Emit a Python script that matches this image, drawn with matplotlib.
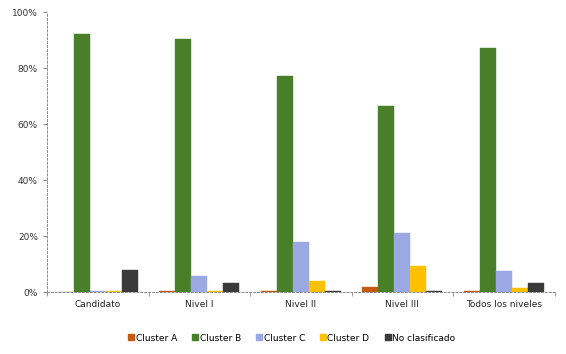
import numpy as np
import matplotlib
matplotlib.use("Agg")
import matplotlib.pyplot as plt
from matplotlib.ticker import FixedLocator, PercentFormatter

groups = ["Candidato", "Nivel I", "Nivel II", "Nivel III", "Todos los niveles"]
series = ["Cluster A", "Cluster B", "Cluster C", "Cluster D", "No clasificado"]
cluster_a = [0.0, 0.2, 0.3, 1.9, 0.2]
cluster_b = [92.0, 90.4, 77.3, 66.4, 87.0]
cluster_c = [0.3, 5.7, 17.7, 21.0, 7.5]
cluster_d = [0.3, 0.3, 3.9, 9.3, 1.4]
no_clasif = [7.9, 3.1, 0.3, 0.3, 3.3]
colors = ["#C55A11", "#4A7F2A", "#9AA9E3", "#FFC000", "#3A3A3A"]

values = [cluster_a, cluster_b, cluster_c, cluster_d, no_clasif]

fig = plt.figure(figsize=(5.66, 3.54), dpi=100)
ax = fig.add_axes([0.083, 0.175, 0.897, 0.791])

x = np.arange(len(groups))
w = 0.158
for i, (name, vals) in enumerate(zip(series, values)):
    ax.bar(x + (i - 2) * w, vals, width=w, color=colors[i], label=name,
           edgecolor=colors[i], linewidth=0.3)

ax.set_xlim(-0.5, len(groups) - 0.5)
ax.set_ylim(0, 100)
ax.set_yticks(range(0, 101, 20))
ax.yaxis.set_major_formatter(PercentFormatter(decimals=0))
ax.set_xticks(x)
ax.set_xticklabels(groups)
ax.xaxis.set_minor_locator(FixedLocator(np.arange(-0.5, len(groups), 1.0)))
ax.tick_params(axis="x", which="major", length=0, labelsize=6.5, pad=6, colors="#222222")
ax.tick_params(axis="x", which="minor", length=3, color="#888888", direction="out")
ax.tick_params(axis="y", length=3, labelsize=6.5, colors="#333333", color="#888888")

for s in ["top", "right"]:
    ax.spines[s].set_visible(False)
for s in ["left", "bottom"]:
    ax.spines[s].set_color("#888888")
    ax.spines[s].set_linestyle((0, (2, 2)))
    ax.spines[s].set_linewidth(0.7)

fig.legend(handles=[plt.Line2D([], [], marker="s", linestyle="none", color=c, markersize=4)
                    for c in colors],
           labels=series, loc="center", bbox_to_anchor=(0.515, 0.045), ncol=5,
           frameon=False, fontsize=6.5, handletextpad=0.1, columnspacing=1.6,
           handlelength=0.8)

fig.savefig("out.png", dpi=100)
